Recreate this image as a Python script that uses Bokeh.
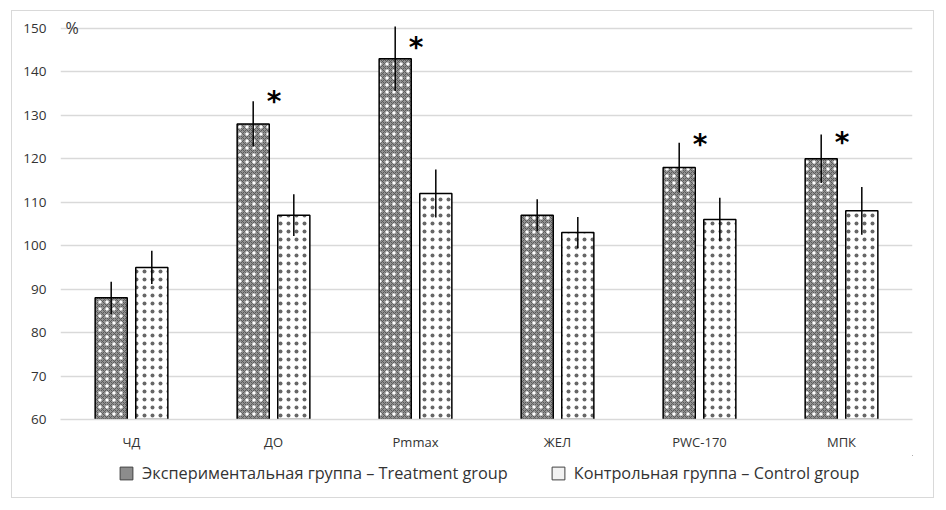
from bokeh.plotting import figure
from bokeh.models import ColumnDataSource, FactorRange, Legend, LegendItem
from bokeh.layouts import column
from bokeh.transform import dodge
from bokeh.core.properties import value
from bokeh.embed import file_html
from bokeh.resources import INLINE

categories = ["ЧД", "ДО", "Pmmax", "ЖЕЛ", "PWC-170", "МПК"]
treatment = [88, 128, 143, 107, 118, 120]
treatment_err = [3.7, 5.2, 7.4, 3.7, 5.7, 5.6]
control = [95, 107, 112, 103, 106, 108]
control_err = [3.8, 4.8, 5.5, 3.6, 5.0, 5.5]
significant = [False, True, True, False, True, True]
star_level = [0, 134.4, 146.7, 0, 124.4, 124.8]
y_ticks = [60, 70, 80, 90, 100, 110, 120, 130, 140, 150]
unit_label = "%"
legend_labels = ["Экспериментальная группа – Treatment group", "Контрольная группа – Control group"]

FONT = "Open Sans"
TXT = "#333333"

src = ColumnDataSource(dict(
    cat=categories,
    t=treatment, t_lo=[v - e for v, e in zip(treatment, treatment_err)], t_hi=[v + e for v, e in zip(treatment, treatment_err)],
    c=control, c_lo=[v - e for v, e in zip(control, control_err)], c_hi=[v + e for v, e in zip(control, control_err)],
))
star_src = ColumnDataSource(dict(
    cat=[c for c, s in zip(categories, significant) if s],
    y=[y for y, s in zip(star_level, significant) if s],
    txt=["*" for s in significant if s],
))

p = figure(x_range=FactorRange(*categories, range_padding=0), y_range=(60, 151.8),
           width=921, height=444, output_backend="svg", toolbar_location=None,
           min_border_left=48, min_border_right=21, min_border_top=9, min_border_bottom=36)
p.outline_line_color = None
p.background_fill_color = "white"
p.border_fill_color = "white"

OFF = 0.143
W = 0.226
xt = dodge("cat", -OFF, range=p.x_range)
xc = dodge("cat", OFF, range=p.x_range)

# treatment bars: grey base with crosshatch, white dots overlay
p.vbar(x=xt, top="t", bottom=60, width=W, source=src, fill_color="#929292",
       hatch_pattern="diagonal_cross", hatch_color="#5a5a5a", hatch_scale=4, hatch_weight=1,
       line_color=None)
p.vbar(x=xt, top="t", bottom=60, width=W, source=src, fill_alpha=0,
       hatch_pattern="dot", hatch_color="white", hatch_scale=7, hatch_weight=1.6,
       line_color="black", line_width=1.5)
# control bars: white with small grey dots
p.vbar(x=xc, top="c", bottom=60, width=W, source=src, fill_color="white",
       hatch_pattern="dot", hatch_color="#666666", hatch_scale=8, hatch_weight=1,
       line_color="black", line_width=1.5)

# error bars
p.segment(x0=xt, x1=xt, y0="t_lo", y1="t_hi", source=src, line_color="black", line_width=1.5)
p.segment(x0=xc, x1=xc, y0="c_lo", y1="c_hi", source=src, line_color="black", line_width=1.5)

# significance asterisks
p.text(x=xt, y="y", text="txt", source=star_src, x_offset=21, y_offset=5,
       text_font=value("DejaVu Sans"), text_font_size="28px", text_font_style="bold",
       text_align="center", text_baseline="middle", text_color="black")

# unit label near the top of the value axis
p.text(x=[0.035], y=[y_ticks[-1]], text=[unit_label], text_font=value(FONT), text_font_size="16px",
       text_baseline="middle", text_align="left", text_color=TXT)

# axes
p.yaxis.ticker = y_ticks
p.yaxis.axis_line_color = None
p.yaxis.major_tick_line_color = None
p.yaxis.minor_tick_line_color = None
p.yaxis.major_label_standoff = 8
p.yaxis.major_label_text_font = FONT
p.yaxis.major_label_text_font_size = "13.5px"
p.yaxis.major_label_text_color = TXT

p.xaxis.axis_line_color = "#d9d9d9"
p.xaxis.axis_line_width = 1.5
p.xaxis.major_tick_line_color = None
p.xaxis.minor_tick_line_color = None
p.xaxis.major_label_standoff = 7
p.xaxis.major_label_text_font = FONT
p.xaxis.major_label_text_font_size = "13px"
p.xaxis.major_label_text_color = TXT

p.xgrid.grid_line_color = None
p.ygrid.grid_line_color = "#d9d9d9"
p.ygrid.grid_line_width = 1.5

# legend strip as a separate small figure
lg = figure(width=921, height=42, output_backend="svg", toolbar_location=None,
            x_range=(0, 1), y_range=(0, 1), min_border=0,
            x_axis_location=None, y_axis_location=None)
lg.grid.visible = False
lg.outline_line_color = None
sw = ColumnDataSource(dict(x=[5], top=[5], bottom=[5]))
r1 = lg.vbar(x="x", top="top", bottom="bottom", width=0.1, source=sw, fill_color="#8c8c8c", line_color="#404040", line_width=1)
r2 = lg.vbar(x="x", top="top", bottom="bottom", width=0.1, source=sw, fill_color="#f2f2f2", line_color="#404040", line_width=1)
legend = Legend(items=[LegendItem(label=legend_labels[0], renderers=[r1]),
                       LegendItem(label=legend_labels[1], renderers=[r2])],
                orientation="horizontal", location=(58, 13),
                label_text_font=FONT, label_text_font_size="16.3px", label_text_color=TXT,
                glyph_width=16, glyph_height=16, label_standoff=8, spacing=42,
                padding=4, margin=0, border_line_color=None, background_fill_alpha=0)
lg.add_layout(legend, "center")

layout = column(p, lg, spacing=0)
layout.styles = {"border": "1px solid #d9d9d9", "margin-left": "11px", "margin-top": "10px"}
open("out.html", "w").write(file_html(layout, INLINE))
